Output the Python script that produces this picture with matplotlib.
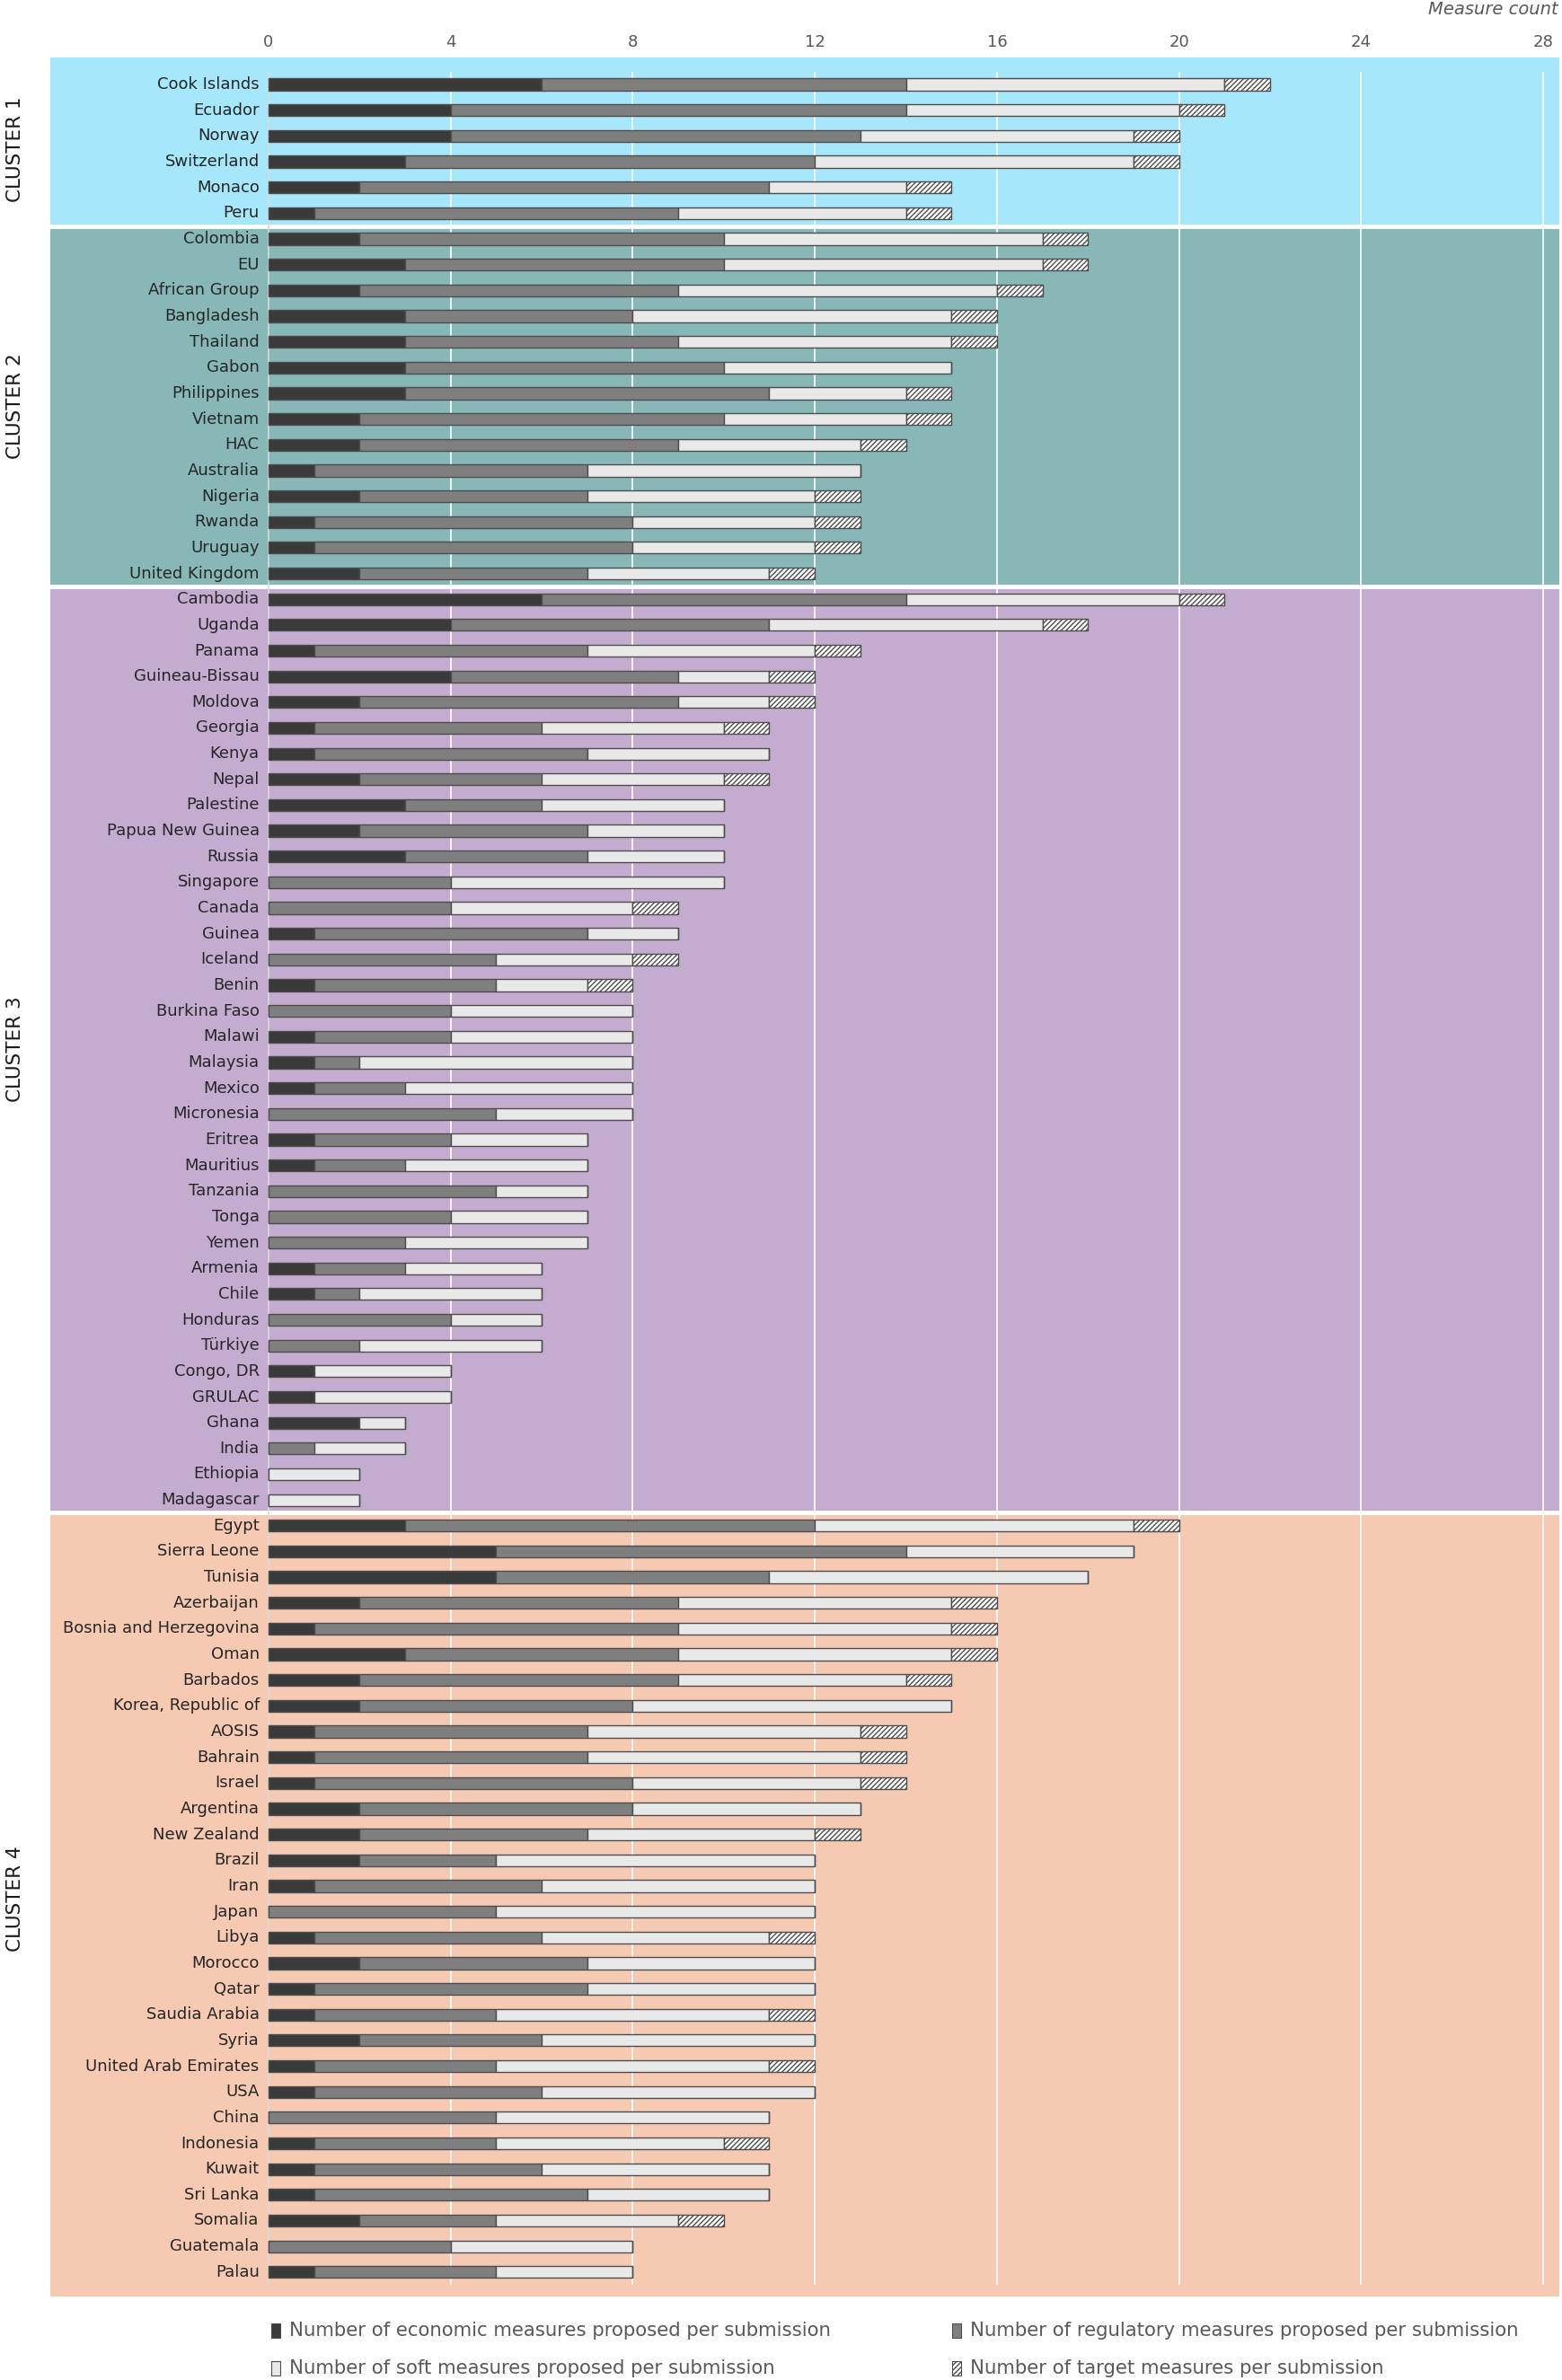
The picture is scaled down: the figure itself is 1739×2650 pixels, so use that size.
import matplotlib.pyplot as plt
from matplotlib.patches import Rectangle

# 聚类信息
cluster_names = ['CLUSTER 1', 'CLUSTER 2', 'CLUSTER 3', 'CLUSTER 4']
cluster_sizes = [6, 14, 36, 30]
cluster_colors = ['#A6E7FB', '#87B8B6', '#C4ACD0', '#F6C9B2']

countries = [
    'Cook Islands', 'Ecuador', 'Norway', 'Switzerland', 'Monaco', 'Peru',
    'Colombia', 'EU', 'African Group', 'Bangladesh', 'Thailand', 'Gabon', 'Philippines',
    'Vietnam', 'HAC', 'Australia', 'Nigeria', 'Rwanda', 'Uruguay', 'United Kingdom',
    'Cambodia', 'Uganda', 'Panama', 'Guineau-Bissau', 'Moldova', 'Georgia', 'Kenya',
    'Nepal', 'Palestine', 'Papua New Guinea', 'Russia', 'Singapore', 'Canada', 'Guinea',
    'Iceland', 'Benin', 'Burkina Faso', 'Malawi', 'Malaysia', 'Mexico', 'Micronesia',
    'Eritrea', 'Mauritius', 'Tanzania', 'Tonga', 'Yemen', 'Armenia', 'Chile', 'Honduras',
    'Türkiye', 'Congo, DR', 'GRULAC', 'Ghana', 'India', 'Ethiopia', 'Madagascar',
    'Egypt', 'Sierra Leone', 'Tunisia', 'Azerbaijan', 'Bosnia and Herzegovina', 'Oman',
    'Barbados', 'Korea, Republic of', 'AOSIS', 'Bahrain', 'Israel', 'Argentina',
    'New Zealand', 'Brazil', 'Iran', 'Japan', 'Libya', 'Morocco', 'Qatar', 'Saudia Arabia',
    'Syria', 'United Arab Emirates', 'USA', 'China', 'Indonesia', 'Kuwait', 'Sri Lanka',
    'Somalia', 'Guatemala', 'Palau',
]

economic = [
    6, 4, 4, 3, 2, 1,
    2, 3, 2, 3, 3, 3, 3, 2, 2, 1, 2, 1, 1, 2,
    6, 4, 1, 4, 2, 1, 1, 2, 3, 2, 3, 0, 0, 1, 0, 1, 0, 1, 1, 1, 0, 1, 1, 0, 0, 0,
    1, 1, 0, 0, 1, 1, 2, 0, 0, 0,
    3, 5, 5, 2, 1, 3, 2, 2, 1, 1, 1, 2, 2, 2, 1, 0, 1, 2, 1, 1, 2, 1, 1, 0,
    1, 1, 1, 2, 0, 1,
]
regulatory = [
    8, 10, 9, 9, 9, 8,
    8, 7, 7, 5, 6, 7, 8, 8, 7, 6, 5, 7, 7, 5,
    8, 7, 6, 5, 7, 5, 6, 4, 3, 5, 4, 4, 4, 6, 5, 4, 4, 3, 1, 2, 5, 3, 2, 5, 4, 3,
    2, 1, 4, 2, 0, 0, 0, 1, 0, 0,
    9, 9, 6, 7, 8, 6, 7, 6, 6, 6, 7, 6, 5, 3, 5, 5, 5, 5, 6, 4, 4, 4, 5, 5,
    4, 5, 6, 3, 4, 4,
]
soft = [
    7, 6, 6, 7, 3, 5,
    7, 7, 7, 7, 6, 5, 3, 4, 4, 6, 5, 4, 4, 4,
    6, 6, 5, 2, 2, 4, 4, 4, 4, 3, 3, 6, 4, 2, 3, 2, 4, 4, 6, 5, 3, 3, 4, 2, 3, 4,
    3, 4, 2, 4, 3, 3, 1, 2, 2, 2,
    7, 5, 7, 6, 6, 6, 5, 7, 6, 6, 5, 5, 5, 7, 6, 7, 5, 5, 5, 6, 6, 6, 6, 6,
    5, 5, 4, 4, 4, 3,
]
target = [
    1, 1, 1, 1, 1, 1,
    1, 1, 1, 1, 1, 0, 1, 1, 1, 0, 1, 1, 1, 1,
    1, 1, 1, 1, 1, 1, 0, 1, 0, 0, 0, 0, 1, 0, 1, 1, 0, 0, 0, 0, 0, 0, 0, 0, 0, 0,
    0, 0, 0, 0, 0, 0, 0, 0, 0, 0,
    1, 0, 0, 1, 1, 1, 1, 0, 1, 1, 1, 0, 1, 0, 0, 0, 1, 0, 0, 1, 0, 1, 0, 0,
    1, 0, 0, 1, 0, 0,
]

legend_labels = [
    'Number of economic measures proposed per submission',
    'Number of regulatory measures proposed per submission',
    'Number of soft measures proposed per submission',
    'Number of target measures per submission',
]

W, H = 1739, 2650
fig = plt.figure(figsize=(W / 100, H / 100), dpi=100)
ax = fig.add_axes([56 / W, 1 - 2557 / H, (1736 - 56) / W, (2557 - 64) / H])

n = len(countries)
y = list(range(n))

# 背景色块
start = 0
for name, size, col in zip(cluster_names, cluster_sizes, cluster_colors):
    top = start - 1.05 if start == 0 else start - 0.5
    bottom = start + size - 0.5 if start + size < n else n - 0.05
    ax.axhspan(top, bottom, color=col, zorder=0, lw=0)
    if start > 0:
        ax.axhline(start - 0.5, color='white', lw=3.5, zorder=1)
    mid = start + (size - 1) / 2
    ax.text(-5.55, mid, name, rotation=90, ha='center', va='center',
            fontsize=15.5, color='#1a1a1a', clip_on=False)
    start += size

# 网格线
ax.vlines(range(4, 29, 4), -0.5, n - 0.5, color='white', lw=1.2, zorder=1)
ax.vlines(0, -0.5, n - 0.5, color='#DADADA', lw=1.2, zorder=1)

# 堆叠条形
bh = 0.46
seg_styles = [
    (economic, '#3A3A3A', None),
    (regulatory, '#7F7F7F', None),
    (soft, '#E9E9E9', None),
    (target, 'white', '//////'),
]
left = [0] * n
for vals, col, hatch in seg_styles:
    ax.barh(y, vals, left=left, height=bh, color=col, edgecolor='#4D4D4D',
            linewidth=1.0, hatch=hatch, zorder=2)
    left = [l + v for l, v in zip(left, vals)]

for i, c in enumerate(countries):
    ax.text(-0.2, i, c, ha='right', va='center', fontsize=13, color='#262626')

ax.set_xlim(-4.79, 28.35)
ax.set_ylim(n - 0.05, -1.05)
ax.xaxis.tick_top()
ax.set_xticks(range(0, 29, 4))
ax.tick_params(axis='x', length=0, pad=6, labelsize=13, labelcolor='#595959')
ax.set_yticks([])
for s in ax.spines.values():
    s.set_visible(False)

fig.text(1735 / W, 1 - 10 / H, 'Measure count', ha='right', va='center',
         fontsize=14, style='italic', color='#595959')

# 图例
leg_pos = [(302, 2595), (1060, 2595), (302, 2637), (1060, 2637)]
leg_style = [('#3A3A3A', None), ('#7F7F7F', None), ('#E9E9E9', None), ('white', '//////')]
for (px, py), (col, hatch), lab in zip(leg_pos, leg_style, legend_labels):
    r = Rectangle((px / W, 1 - (py + 8) / H), 10 / W, 16 / H, transform=fig.transFigure,
                  facecolor=col, edgecolor='#4D4D4D', lw=0.8, hatch=hatch)
    fig.add_artist(r)
    fig.text((px + 20) / W, 1 - py / H, lab, ha='left', va='center',
             fontsize=15.3, color='#595959')

plt.savefig('out.png', dpi=100)
plt.close()
